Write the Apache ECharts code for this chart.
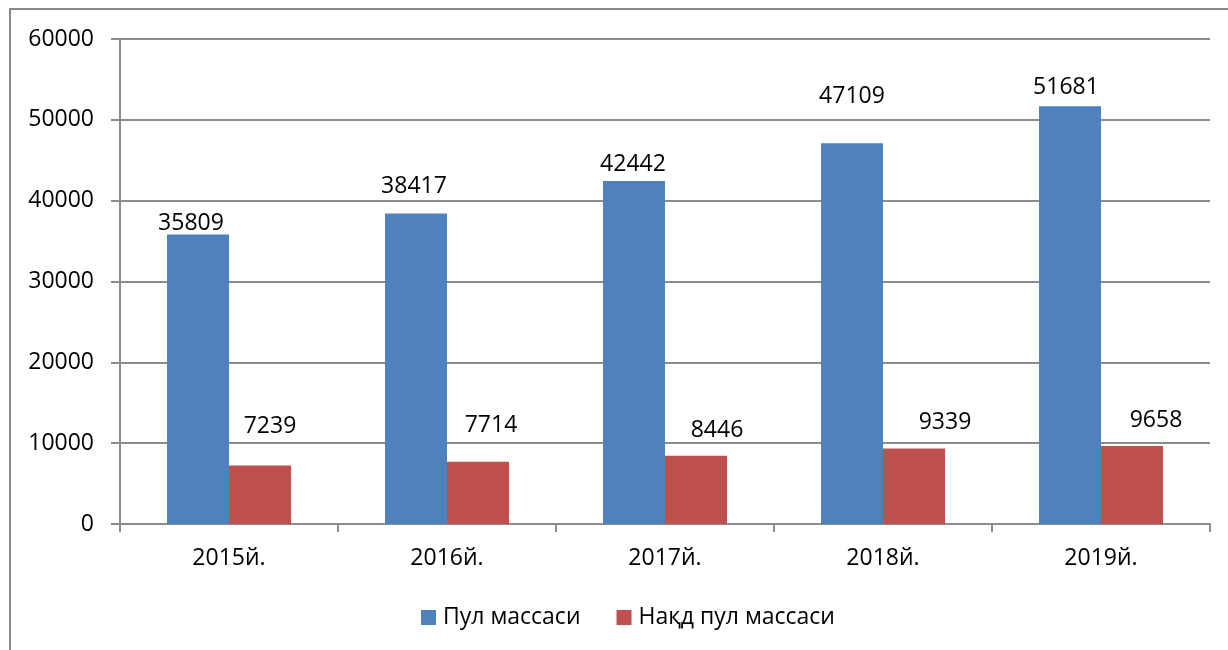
<!DOCTYPE html>
<html lang="uz">
<head>
    <meta charset="utf-8">
    <title>Пул массаси</title>
    <script src="https://cdn.jsdelivr.net/npm/echarts@6/dist/echarts.min.js"></script>
    <style>
        html, body { margin: 0; padding: 0; background: #fff; }
        #chart { width: 1228px; height: 650px; }
    </style>
</head>
<body>
<div id="chart"></div>
<script type="application/javascript">
    // data
    var years = ['2015й.', '2016й.', '2017й.', '2018й.', '2019й.'];
    var pulMassasi = [35809, 38417, 42442, 47109, 51681];
    var naqdPulMassasi = [7239, 7714, 8446, 9339, 9658];
    var seriesNames = ['Пул массаси', 'Нақд пул массаси'];

    // label nudges (Excel put the labels a bit all over the place)
    var blueNudge = [[-7, 0], [-2, -16], [-1, -5], [0, -35], [-4, -7]];
    var redNudge = [[10, -28], [13, -25], [21, -14], [31, -15], [24, -14]];

    var font = '"Open Sans", "Noto Sans", sans-serif';
    var gray = '#8c8c8c';

    function withLabels(values, nudge) {
        var out = [];
        for (var i = 0; i < values.length; i++) {
            out.push({
                value: values[i],
                label: { offset: nudge[i] }
            });
        }
        return out;
    }

    var chart = echarts.init(document.getElementById('chart'));
    chart.setOption({
        animation: false,
        textStyle: { fontFamily: font },
        graphic: [{
            type: 'rect',
            shape: { x: 10, y: 9, width: 1400, height: 800 },
            style: { fill: 'none', stroke: '#888', lineWidth: 2 },
            silent: true
        }],
        grid: { left: 120, right: 18, top: 39, bottom: 126 },
        legend: {
            data: seriesNames,
            bottom: 16,
            left: 416,
            itemWidth: 15,
            itemHeight: 15,
            itemGap: 36,
            icon: 'rect',
            textStyle: { fontSize: 23, color: '#000', fontFamily: font, padding: [0, 0, 0, 2] }
        },
        xAxis: {
            type: 'category',
            data: years,
            axisLine: { lineStyle: { color: gray, width: 2 } },
            axisTick: { show: true, length: 8, lineStyle: { color: gray, width: 2 } },
            axisLabel: { fontSize: 23, color: '#000', margin: 23, fontFamily: font }
        },
        yAxis: {
            type: 'value',
            min: 0,
            max: 60000,
            interval: 10000,
            axisLine: { show: true, lineStyle: { color: gray, width: 2 } },
            axisTick: { show: true, length: 9, lineStyle: { color: gray, width: 2 } },
            axisLabel: {
                fontSize: 23, color: '#000', margin: 26, fontFamily: font,
                formatter: function (v) { return String(v); }
            },
            splitLine: { lineStyle: { color: gray, width: 2 } }
        },
        series: [{
            name: seriesNames[0],
            type: 'bar',
            barWidth: 62,
            barGap: '0%',
            itemStyle: { color: '#4F81BD' },
            label: { show: true, position: 'top', distance: 0, fontSize: 23, color: '#000', fontFamily: font },
            data: withLabels(pulMassasi, blueNudge)
        }, {
            name: seriesNames[1],
            type: 'bar',
            barWidth: 62,
            itemStyle: { color: '#C0504D' },
            label: { show: true, position: 'top', distance: 0, fontSize: 23, color: '#000', fontFamily: font },
            data: withLabels(naqdPulMassasi, redNudge)
        }]
    });
</script>
</body>
</html>
